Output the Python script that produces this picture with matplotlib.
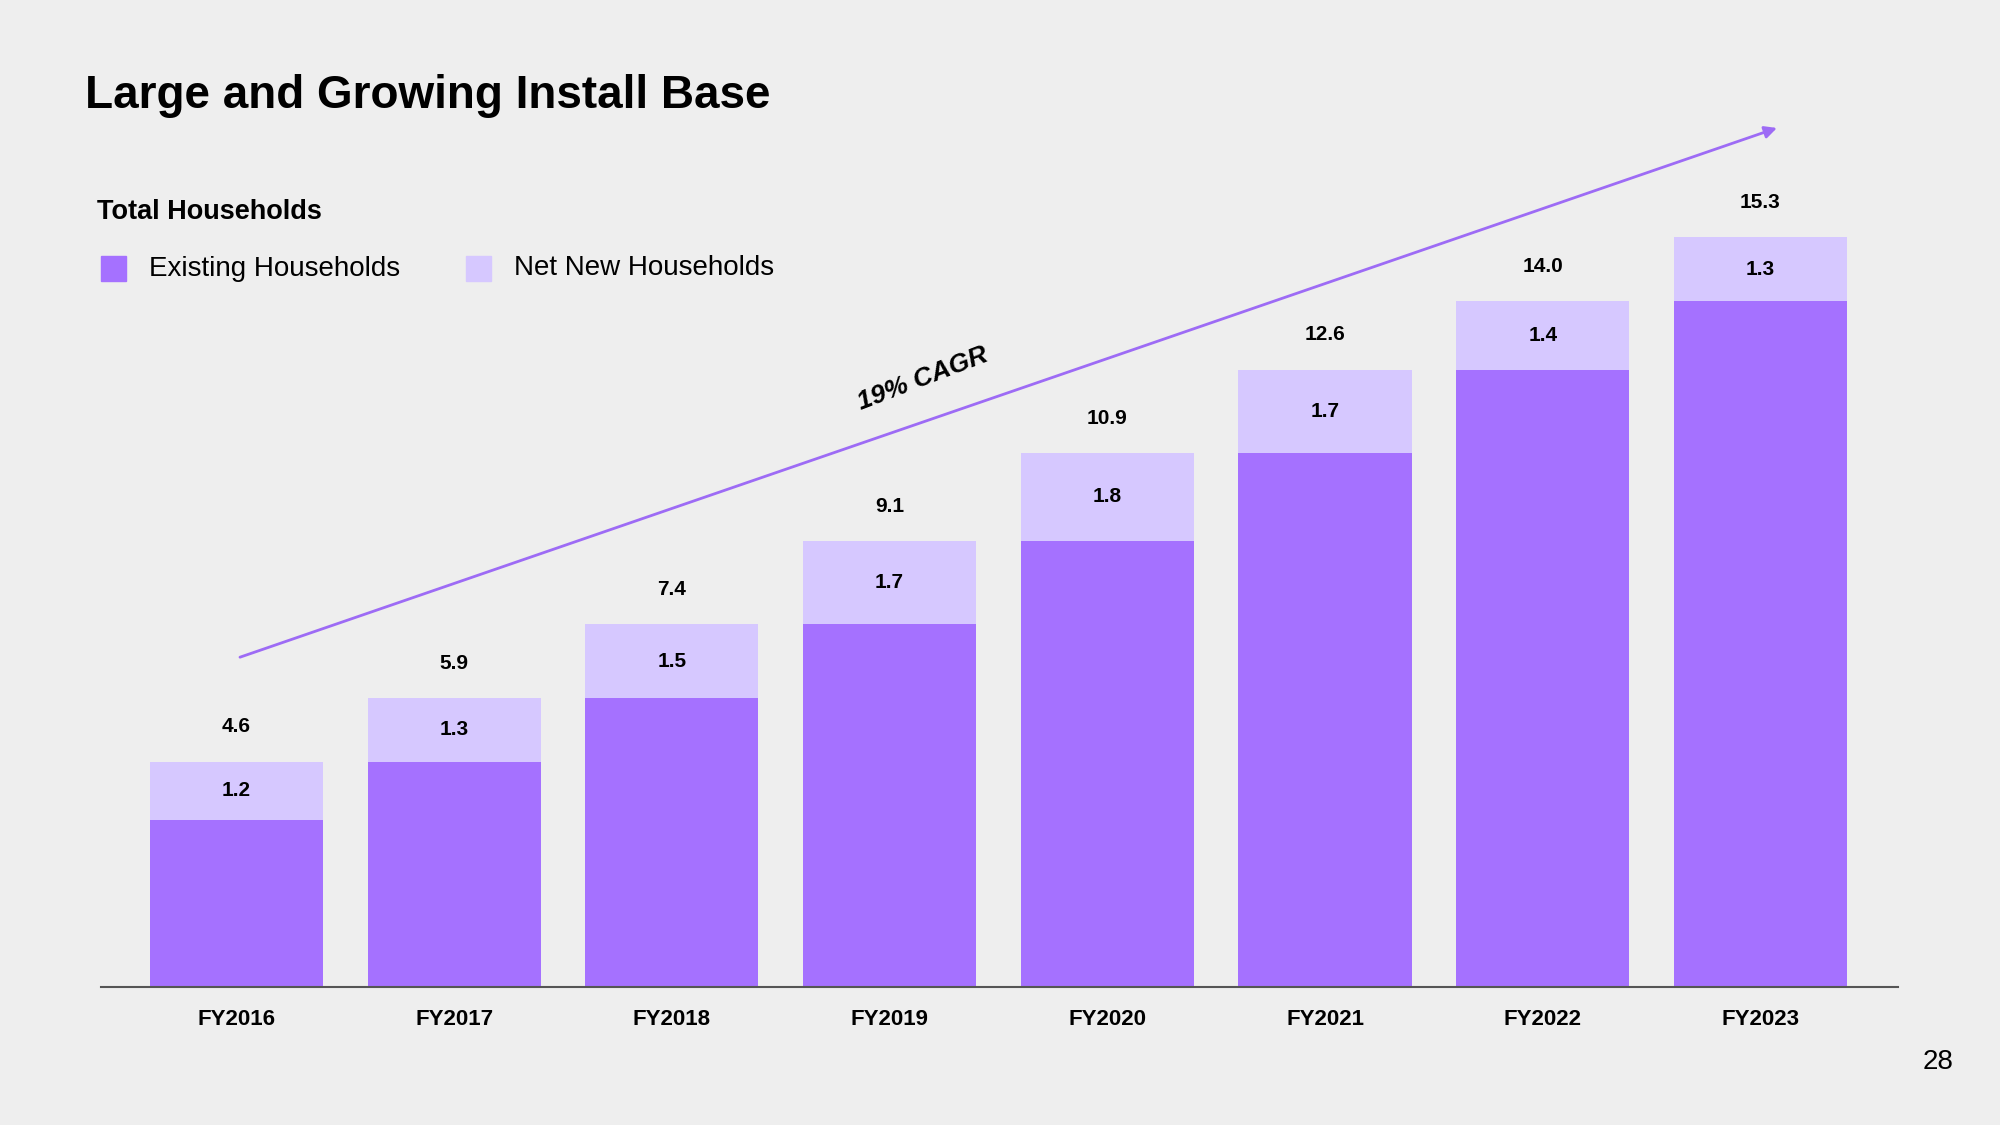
import matplotlib
matplotlib.use("Agg")
import matplotlib.pyplot as plt
from matplotlib.patches import Rectangle

plt.rcParams['font.family'] = ['Liberation Sans', 'DejaVu Sans']

years = ['FY2016', 'FY2017', 'FY2018', 'FY2019', 'FY2020', 'FY2021', 'FY2022', 'FY2023']
totals = [4.6, 5.9, 7.4, 9.1, 10.9, 12.6, 14.0, 15.3]
net_new = [1.2, 1.3, 1.5, 1.7, 1.8, 1.7, 1.4, 1.3]
existing = [round(t - n, 1) for t, n in zip(totals, net_new)]

dark = '#a571ff'
light = '#d6c8ff'
bg = '#eeeeee'

fig = plt.figure(figsize=(20, 11.25), dpi=100, facecolor=bg)
ax = fig.add_axes([0.0505, 0.12267, 0.8985, 0.78667], facecolor=bg)

x = list(range(len(years)))
ax.bar(x, existing, width=0.795, color=dark, zorder=2)
ax.bar(x, net_new, bottom=existing, width=0.795, color=light, zorder=2)

for i in x:
    ax.annotate(f'{totals[i]:.1f}', (i, totals[i]), xytext=(0, 25), textcoords='offset points',
                ha='center', va='center', fontsize=15, fontweight='bold')
    ax.text(i, existing[i] + net_new[i] / 2, f'{net_new[i]:.1f}', ha='center', va='center',
            fontsize=15, fontweight='bold')

ax.set_xlim(-0.6224, 7.632)
ax.set_ylim(0, 18.06)
ax.set_xticks(x)
ax.set_xticklabels(years, fontsize=16, fontweight='bold')
ax.tick_params(axis='x', length=0, pad=15.5)
ax.set_yticks([])
for s in ['left', 'right', 'top']:
    ax.spines[s].set_visible(False)
ax.spines['bottom'].set_color('#555555')
ax.spines['bottom'].set_linewidth(1.5)
ax.spines['bottom'].set_zorder(3)

# CAGR arrow
ax.annotate('', xy=(7.076, 17.53), xytext=(0.016, 6.73),
            arrowprops=dict(arrowstyle='-|>', color='#9d6bf5', lw=2, mutation_scale=18,
                            shrinkA=0, shrinkB=0))
ax.text(3.153, 12.41, '19% CAGR', rotation=21, ha='center', va='center',
        fontsize=19, fontweight='bold', fontstyle='italic')

# titles and legend
fig.text(85 / 2000, 1 - 108 / 1125, 'Large and Growing Install Base', fontsize=33,
         fontweight='bold', va='baseline')
fig.text(97 / 2000, 1 - 219 / 1125, 'Total Households', fontsize=19.5,
         fontweight='bold', va='baseline')
fig.patches.append(Rectangle((101 / 2000, 1 - 281 / 1125), 25 / 2000, 25 / 1125,
                             transform=fig.transFigure, color=dark))
fig.text(149 / 2000, 1 - 269 / 1125, 'Existing Households', fontsize=20, va='center')
fig.patches.append(Rectangle((466 / 2000, 1 - 281 / 1125), 25 / 2000, 25 / 1125,
                             transform=fig.transFigure, color=light))
fig.text(514 / 2000, 1 - 268 / 1125, 'Net New Households', fontsize=20, va='center')

fig.text(1938 / 2000, 1 - 1062 / 1125, '28', fontsize=20, ha='center', va='center')

fig.savefig('out.png', dpi=100, facecolor=bg)
